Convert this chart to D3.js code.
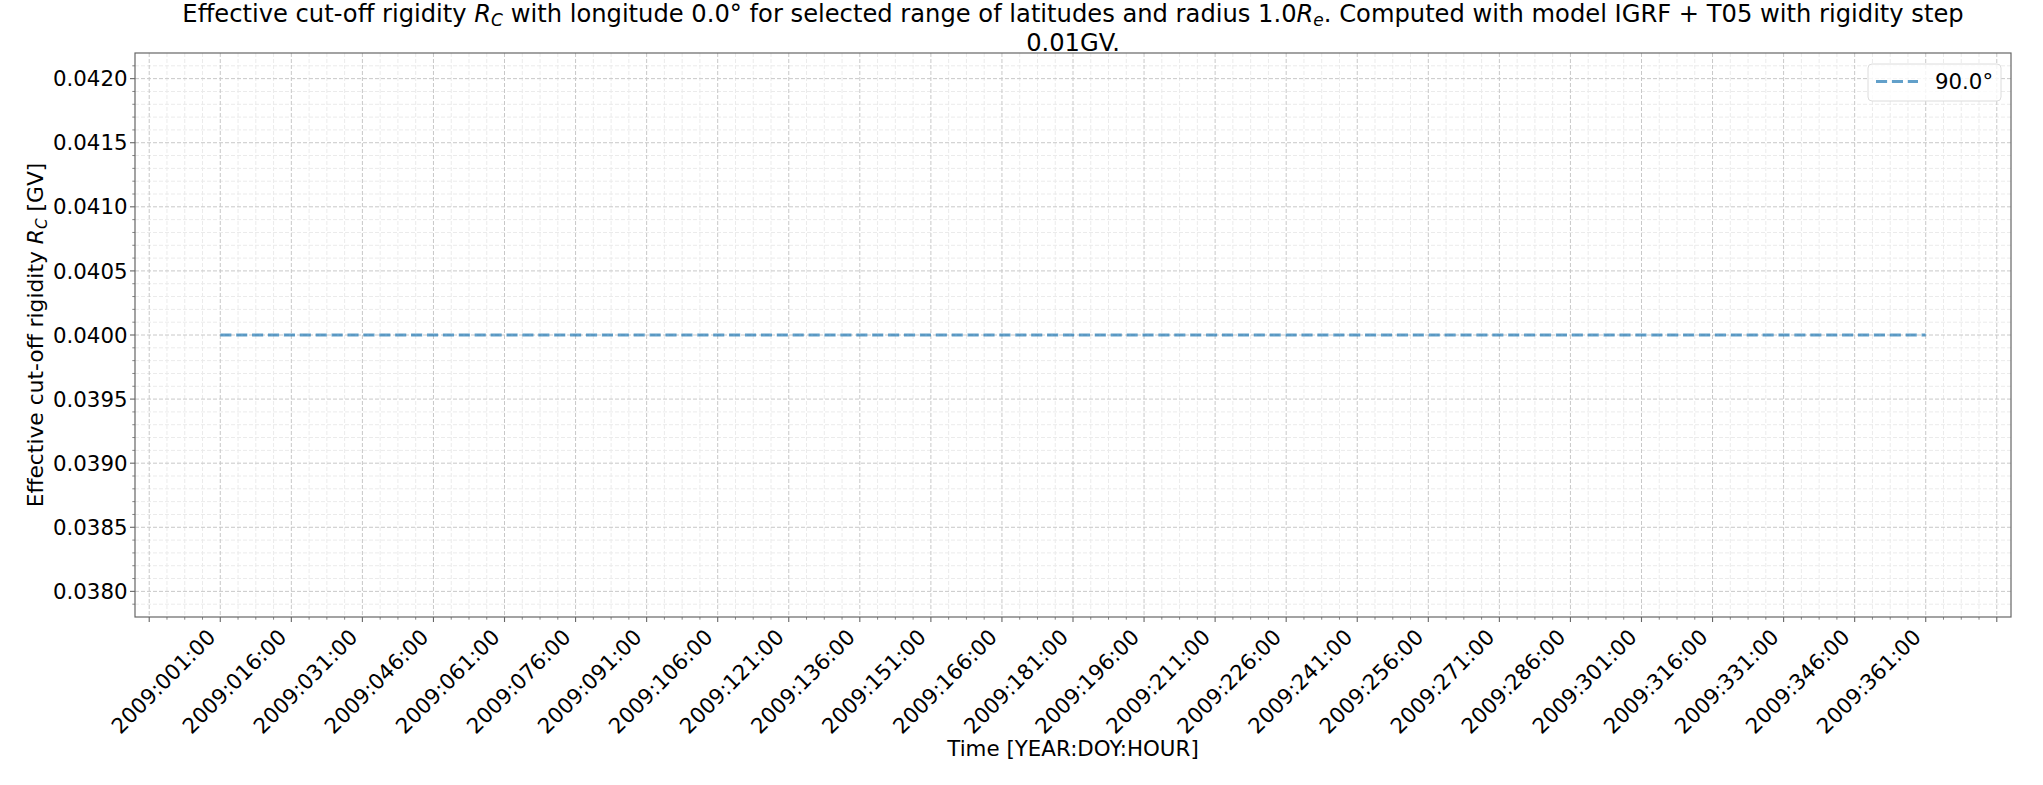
<!DOCTYPE html>
<html>
<head>
<meta charset="utf-8">
<script src="https://cdn.jsdelivr.net/npm/d3@7/dist/d3.min.js"></script>
<style>
  html, body { margin: 0; padding: 0; background: #fff; }
  svg { display: block; font-family: "DejaVu Sans", sans-serif; }
</style>
</head>
<body>
<svg id="chart" width="2043" height="785"></svg>
<script>
// ---- data ----
const seriesName = "90.0°";
const days = [1, 16, 31, 46, 61, 76, 91, 106, 121, 136, 151, 166, 181, 196, 211, 226, 241, 256, 271, 286, 301, 316, 331, 346, 361];
const rigidity = [0.04, 0.04, 0.04, 0.04, 0.04, 0.04, 0.04, 0.04, 0.04, 0.04, 0.04, 0.04, 0.04, 0.04, 0.04, 0.04, 0.04, 0.04, 0.04, 0.04, 0.04, 0.04, 0.04, 0.04, 0.04];
const xTickDays = [-14, 1, 16, 31, 46, 61, 76, 91, 106, 121, 136, 151, 166, 181, 196, 211, 226, 241, 256, 271, 286, 301, 316, 331, 346, 361, 376];
const xTickLabels = ["", "2009:001:00", "2009:016:00", "2009:031:00", "2009:046:00", "2009:061:00", "2009:076:00", "2009:091:00", "2009:106:00", "2009:121:00", "2009:136:00", "2009:151:00", "2009:166:00", "2009:181:00", "2009:196:00", "2009:211:00", "2009:226:00", "2009:241:00", "2009:256:00", "2009:271:00", "2009:286:00", "2009:301:00", "2009:316:00", "2009:331:00", "2009:346:00", "2009:361:00", ""];
const yTicks = [0.0380, 0.0385, 0.0390, 0.0395, 0.0400, 0.0405, 0.0410, 0.0415, 0.0420];
const yTickLabels = ["0.0380", "0.0385", "0.0390", "0.0395", "0.0400", "0.0405", "0.0410", "0.0415", "0.0420"];

// ---- layout ----
const L = 135, R = 2011, T = 53, B = 617;
const svg = d3.select("#chart");
const lineColor = "rgba(31,119,180,0.7)";

const xMin = d3.min(days), xMax = d3.max(days);
const xPad = (xMax - xMin) * 0.05;
const x = d3.scaleLinear().domain([xMin - xPad, xMax + xPad]).range([L, R]);
const y = d3.scaleLinear().domain([0.0378, 0.0422]).range([B, T]);

// minor tick positions
const xMinor = [];
for (let i = 0; i < xTickDays.length - 1; i++) {
  const a = xTickDays[i], b = xTickDays[i + 1];
  for (let k = 1; k < 4; k++) xMinor.push(a + (b - a) * k / 4);
}
const yMinor = [];
for (let i = 0; i < yTicks.length - 1; i++) {
  const a = yTicks[i], b = yTicks[i + 1];
  for (let k = 1; k < 5; k++) yMinor.push(a + (b - a) * k / 5);
}
[0.0379, 0.0421].forEach(v => yMinor.push(v));

const g = svg.append("g");

// minor grid
g.append("g").selectAll("line").data(xMinor.filter(d => x(d) > L && x(d) < R)).join("line")
  .attr("x1", d => x(d)).attr("x2", d => x(d)).attr("y1", T).attr("y2", B)
  .attr("stroke", "#ebebeb").attr("stroke-width", 1).attr("stroke-dasharray", "4,2");
g.append("g").selectAll("line").data(yMinor.filter(d => y(d) > T && y(d) < B)).join("line")
  .attr("x1", L).attr("x2", R).attr("y1", d => y(d)).attr("y2", d => y(d))
  .attr("stroke", "#ebebeb").attr("stroke-width", 1).attr("stroke-dasharray", "4,2");
// major grid
g.append("g").selectAll("line").data(xTickDays.filter(d => x(d) > L && x(d) < R)).join("line")
  .attr("x1", d => x(d)).attr("x2", d => x(d)).attr("y1", T).attr("y2", B)
  .attr("stroke", "#c8c8c8").attr("stroke-width", 1).attr("stroke-dasharray", "4,2");
g.append("g").selectAll("line").data(yTicks).join("line")
  .attr("x1", L).attr("x2", R).attr("y1", d => y(d)).attr("y2", d => y(d))
  .attr("stroke", "#c8c8c8").attr("stroke-width", 1).attr("stroke-dasharray", "4,2");

// data line
const line = d3.line().x((d, i) => x(days[i])).y(d => y(d));
g.append("path").datum(rigidity).attr("d", line)
  .attr("fill", "none").attr("stroke", lineColor).attr("stroke-width", 3)
  .attr("stroke-dasharray", "11.1,4.8");

// spines
g.append("rect").attr("x", L).attr("y", T).attr("width", R - L).attr("height", B - T)
  .attr("fill", "none").attr("stroke", "#666").attr("stroke-width", 1.2);

// ticks
const ax = svg.append("g");
ax.selectAll(".xmaj").data(xTickDays).join("line")
  .attr("x1", d => x(d)).attr("x2", d => x(d)).attr("y1", B).attr("y2", B + 5)
  .attr("stroke", "#666").attr("stroke-width", 1.1);
ax.selectAll(".xmin").data(xMinor.filter(d => x(d) >= L && x(d) <= R)).join("line")
  .attr("x1", d => x(d)).attr("x2", d => x(d)).attr("y1", B).attr("y2", B + 2.7)
  .attr("stroke", "#666").attr("stroke-width", 0.8);
ax.selectAll(".ymaj").data(yTicks).join("line")
  .attr("x1", L - 5).attr("x2", L).attr("y1", d => y(d)).attr("y2", d => y(d))
  .attr("stroke", "#666").attr("stroke-width", 1.1);
ax.selectAll(".ymin").data(yMinor).join("line")
  .attr("x1", L - 2.7).attr("x2", L).attr("y1", d => y(d)).attr("y2", d => y(d))
  .attr("stroke", "#666").attr("stroke-width", 0.8);

// y tick labels
ax.selectAll(".ylab").data(yTicks).join("text")
  .attr("x", L - 7.5).attr("y", d => y(d)).attr("dy", "0.36em")
  .attr("text-anchor", "end").attr("font-size", 21.3).attr("fill", "#000")
  .text((d, i) => yTickLabels[i]);

// x tick labels (rotated 45, right aligned)
ax.selectAll(".xlab").data(xTickDays).join("text")
  .attr("transform", d => `translate(${x(d) - 3.5},${638.5}) rotate(-45)`)
  .attr("text-anchor", "end").attr("font-size", 21.3).attr("fill", "#000")
  .text((d, i) => xTickLabels[i]);

// axis labels
svg.append("text").attr("x", (L + R) / 2).attr("y", 756)
  .attr("text-anchor", "middle").attr("font-size", 21.4).text("Time [YEAR:DOY:HOUR]");

const yl = svg.append("text").attr("transform", `translate(43,${(T + B) / 2}) rotate(-90)`)
  .attr("text-anchor", "middle").attr("font-size", 21.8);
yl.append("tspan").text("Effective cut-off rigidity ");
yl.append("tspan").attr("font-style", "italic").text("R");
yl.append("tspan").attr("font-style", "italic").attr("font-size", 15.3).attr("dy", 3.5).text("C");
yl.append("tspan").attr("dy", -3.5).text(" [GV]");

// title
const t1 = svg.append("text").attr("x", (L + R) / 2).attr("y", 22)
  .attr("text-anchor", "middle").attr("font-size", 24.2);
t1.append("tspan").text("Effective cut-off rigidity ");
t1.append("tspan").attr("font-style", "italic").text("R");
t1.append("tspan").attr("font-style", "italic").attr("font-size", 17).attr("dy", 4).text("C");
t1.append("tspan").attr("dy", -4).text(" with longitude 0.0° for selected range of latitudes and radius 1.0");
t1.append("tspan").attr("font-style", "italic").text("R");
t1.append("tspan").attr("font-style", "italic").attr("font-size", 17).attr("dy", 4).text("e");
t1.append("tspan").attr("dy", -4).text(". Computed with model IGRF + T05 with rigidity step");
svg.append("text").attr("x", (L + R) / 2).attr("y", 51)
  .attr("text-anchor", "middle").attr("font-size", 24.2).text("0.01GV.");

// legend
const lg = svg.append("g");
lg.append("rect").attr("x", 1868).attr("y", 64).attr("width", 133).attr("height", 37)
  .attr("rx", 4).attr("fill", "rgba(255,255,255,0.8)").attr("stroke", "#dcdcdc").attr("stroke-width", 1);
lg.append("line").attr("x1", 1876).attr("x2", 1918).attr("y1", 81.5).attr("y2", 81.5)
  .attr("stroke", lineColor).attr("stroke-width", 3).attr("stroke-dasharray", "11.1,4.8");
lg.append("text").attr("x", 1935).attr("y", 81.5).attr("dy", "0.36em")
  .attr("font-size", 21.3).text(seriesName);
</script>
</body>
</html>
